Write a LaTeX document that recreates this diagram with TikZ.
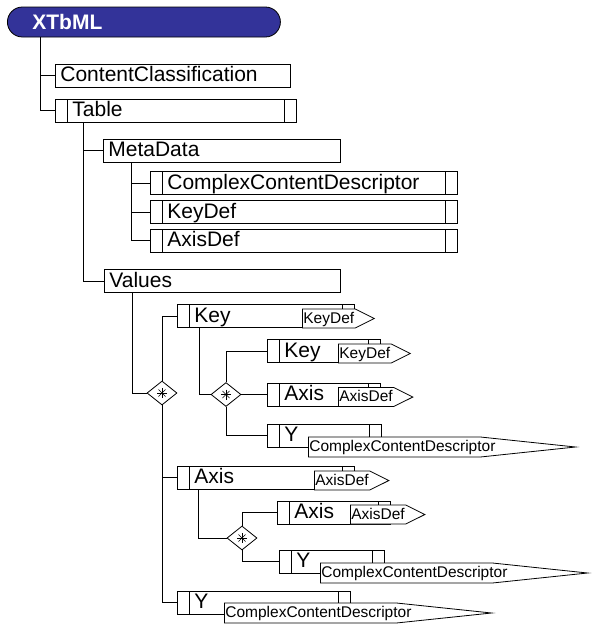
\documentclass[tikz,border=0pt]{standalone}
\usepackage{fontspec}
\setmainfont{Liberation Sans}
\usetikzlibrary{shapes.geometric,shapes.symbols}
\definecolor{xblue}{RGB}{51,51,153}
\hyphenpenalty=10000

\begin{document}
\begin{tikzpicture}[x=1pt, y=-1pt, line width=0.8pt,
    root/.style = {draw, fill=xblue, rounded corners=15pt, anchor=west, minimum height=30pt,
        inner xsep=25pt, inner ysep=0pt, align=left, text=white, text height=15pt, text depth=0pt,
        font=\bfseries\fontsize{21}{24}\selectfont},
    elem/.style = {draw, fill=white, anchor=west, minimum height=23pt, inner xsep=5pt, inner ysep=0pt,
        align=left, text height=14pt, text depth=2pt, font=\fontsize{21}{24}\selectfont},
    bars/.style = {elem, inner xsep=17pt, path picture={
        \draw ([xshift=12pt]path picture bounding box.north west) -- ([xshift=12pt]path picture bounding box.south west);
        \draw ([xshift=-12pt]path picture bounding box.north east) -- ([xshift=-12pt]path picture bounding box.south east);}},
    tag/.style = {draw, fill=white, anchor=west, shape=signal, signal from=nowhere, signal to=east,
        signal pointer angle=53, minimum height=19pt, inner xsep=1pt, inner ysep=0pt,
        text height=10pt, text depth=1pt, font=\fontsize{15.5}{18}\selectfont},
    longtag/.style = {tag, signal pointer angle=12, minimum height=20pt, text width=170pt, align=left},
    choice/.style = {draw, fill=white, shape=diamond, minimum width=30pt, minimum height=24pt, inner sep=0pt,
        path picture={\foreach \a in {0,45,90,135}
            \draw[line width=0.6pt] ([shift={(\a:5pt)}]path picture bounding box.center) -- ([shift={(\a+180:5pt)}]path picture bounding box.center);}}]
    \useasboundingbox (0,0) rectangle (593,630);

    % root and its children
    \node[root, text width=223pt] (root) at (7,22) {XTbML};
    \node[elem, text width=225pt] (cc) at (55,75.5) {ContentClassification};
    \node[bars, text width=207pt] (tbl) at (55,110.5) {Table};
    \node[elem, text width=227pt] (md) at (103,150.5) {MetaData};
    \node[bars, text width=273pt] (ccd) at (150,183) {ComplexContentDescriptor};
    \node[bars, text width=273pt] (kd) at (150,212) {KeyDef};
    \node[bars, text width=273pt] (ad) at (150,240.5) {AxisDef};
    \node[elem, text width=226pt] (vals) at (104,281) {Values};

    % values
    \node[choice] (d1) at (162,393) {};
    \node[bars, text width=143pt] (k1) at (177,316) {Key};
    \node[tag] (k1t) at (302,318.5) {KeyDef};
    \node[choice] (d2) at (226,394.5) {};
    \node[bars, text width=79pt] (k2) at (267,351) {Key};
    \node[tag] (k2t) at (338,353.5) {KeyDef};
    \node[bars, text width=79pt] (ax2) at (267,394.5) {Axis};
    \node[tag] (ax2t) at (338,397) {AxisDef};
    \node[bars, text width=80pt] (y2) at (267,435.5) {Y};
    \node[longtag] (y2t) at (308,447) {ComplexContentDescriptor};
    \node[bars, text width=143pt] (ax1) at (177,477.5) {Axis};
    \node[tag] (ax1t) at (314,480.5) {AxisDef};
    \node[choice] (d3) at (242,538) {};
    \node[bars, text width=79pt] (ax3) at (277,512.5) {Axis};
    \node[tag] (ax3t) at (350,514.5) {AxisDef};
    \node[bars, text width=71pt] (y3) at (279,561.5) {Y};
    \node[longtag] (y3t) at (320,573) {ComplexContentDescriptor};
    \node[bars, text width=139pt] (y1) at (177,602.5) {Y};
    \node[longtag] (y1t) at (224,613) {ComplexContentDescriptor};

    % connectors
    \draw ([xshift=33pt]root.south west) |- (cc.west);
    \draw ([xshift=33pt]root.south west) |- (tbl.west);
    \draw ([xshift=28pt]tbl.south west) |- (md.west);
    \draw ([xshift=28pt]tbl.south west) |- (vals.west);
    \draw ([xshift=28pt]md.south west) |- (ccd.west);
    \draw ([xshift=28pt]md.south west) |- (kd.west);
    \draw ([xshift=28pt]md.south west) |- (ad.west);
    \draw ([xshift=28pt]vals.south west) |- (d1.west);
    \draw (d1.north) |- (k1.west);
    \draw (d1.south) |- (ax1.west);
    \draw (d1.south) |- (y1.west);
    \draw ([xshift=22pt]k1.south west) |- (d2.west);
    \draw (d2.north) |- (k2.west);
    \draw (d2.east) -- (ax2.west);
    \draw (d2.south) |- (y2.west);
    \draw ([xshift=21pt]ax1.south west) |- (d3.west);
    \draw (d3.north) |- (ax3.west);
    \draw (d3.south) |- (y3.west);
\end{tikzpicture}
\end{document}
